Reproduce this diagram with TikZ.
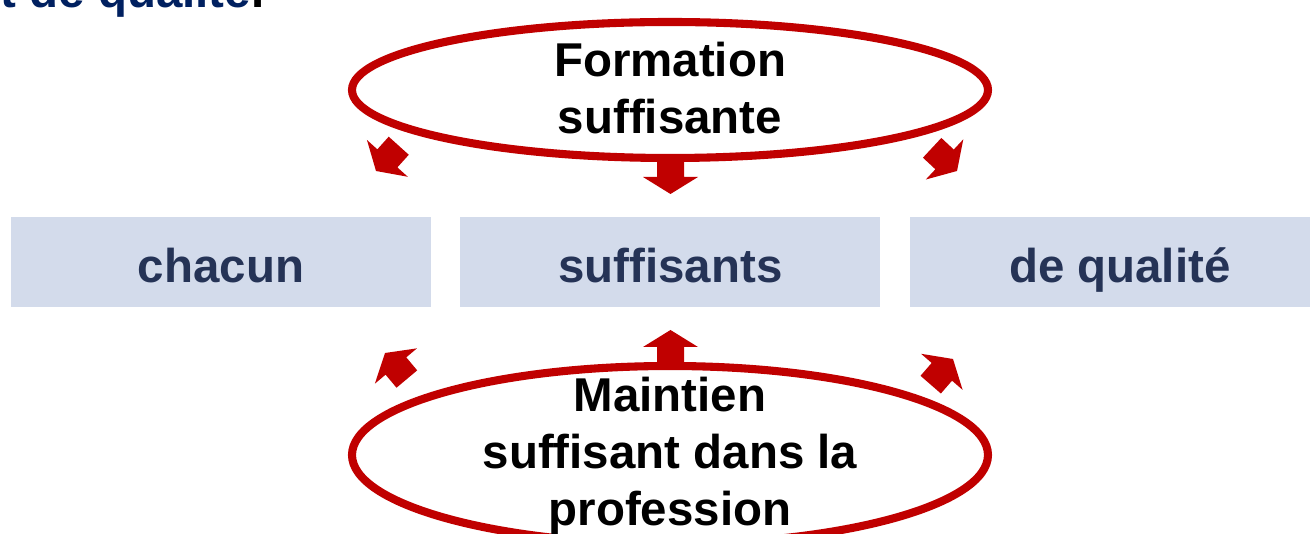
\documentclass[tikz,border=0pt]{standalone}
\usepackage{fontspec}
\setmainfont{Liberation Sans}
\usetikzlibrary{positioning}
\definecolor{ringred}{HTML}{C00000}
\definecolor{goalblue}{HTML}{D3DBEB}
\definecolor{goaltext}{HTML}{253356}
\definecolor{titleblue}{HTML}{002060}

\begin{document}
\begin{tikzpicture}[
    every node/.style={font=\fontsize{13.5}{16.2}\selectfont\bfseries},
    ring/.style={draw=ringred,line width=2.3pt,fill=white},
    goal/.style={fill=goalblue,text=goaltext,minimum width=4.2cm,minimum height=0.9cm,inner sep=0pt,text height=0.42cm,text depth=0cm},
    blockarrow/.pic={\fill[ringred] (0,0) -- (-0.17,0.275) -- (-0.17,0.135) -- (-0.34,0.135) -- (-0.34,-0.135) -- (-0.17,-0.135) -- (-0.17,-0.275) -- cycle;}
  ]
    \useasboundingbox (0,0) rectangle (13.1,5.34);
    \clip (0,0) rectangle (13.1,5.34);
    \node [anchor=base west,text=titleblue,inner sep=0pt] (title) at (0,5.26) {t de qualité\textcolor{black}{.}};
    % the three goals
    \node [goal] (chacun) at (2.21,2.72) {chacun};
    \node [goal,right=0.28cm of chacun] (suff) {suffisants};
    \node [goal,right=0.28cm of suff] (qual) {de qualité};
    % arrows out of the two rings
    \pic [rotate=228] (arrTL) at (3.76,3.63) {blockarrow};
    \pic [rotate=270] (arrTC) at (6.705,3.40) {blockarrow};
    \pic [rotate=317] (arrTR) at (9.57,3.63) {blockarrow};
    \pic [rotate=130] (arrBL) at (3.85,1.81) {blockarrow};
    \pic [rotate=90] (arrBC) at (6.705,2.04) {blockarrow};
    \pic [rotate=49] (arrBR) at (9.53,1.75) {blockarrow};
    % rings
    \draw [ring] (6.70,4.44) ellipse (3.18 and 0.68);
    \node [align=center] (form) at (6.70,4.46) {Formation\\suffisante};
    \draw [ring] (6.70,0.79) ellipse (3.18 and 0.89);
    \node [align=center] (maint) at (6.70,0.775) {Maintien\\suffisant dans la\\profession};
\end{tikzpicture}
\end{document}
